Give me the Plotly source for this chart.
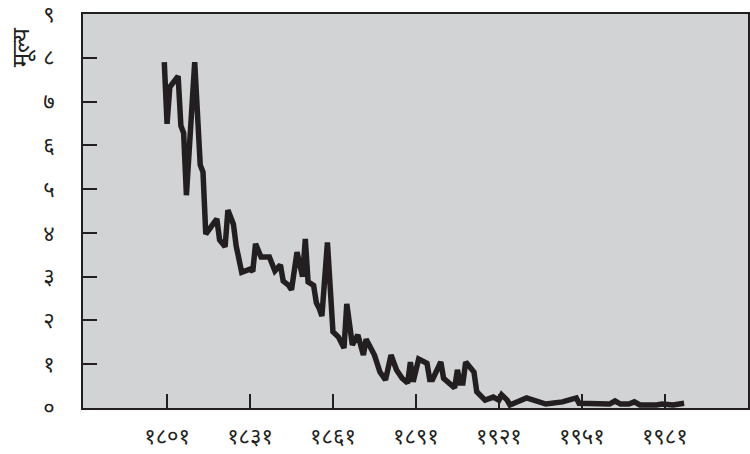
import plotly.graph_objects as go

# Vertex data
years = [1800, 1801, 1802, 1805, 1806, 1807, 1808, 1811, 1813, 1814, 1815,
         1819, 1820, 1822, 1823, 1825, 1826, 1827, 1828, 1831, 1832, 1833,
         1835, 1838, 1840, 1842, 1843, 1845, 1846, 1848, 1850, 1851, 1852,
         1854, 1855, 1856, 1857, 1859, 1861, 1863, 1865, 1866, 1868, 1870,
         1871, 1872, 1873, 1875, 1876, 1878, 1880, 1882, 1884, 1886, 1888,
         1889, 1890, 1892, 1895, 1896, 1897, 1900, 1901, 1905, 1906, 1907,
         1908, 1909, 1912, 1913, 1916, 1919, 1921, 1922, 1924, 1925, 1931,
         1938, 1944, 1949, 1950, 1961, 1963, 1965, 1968, 1970, 1972, 1978,
         1980, 1984, 1988]
values = [7.9, 6.49, 7.33, 7.58, 6.45, 6.28, 4.86, 7.9, 5.55, 5.39, 3.97,
          4.32, 3.84, 3.68, 4.52, 4.2, 3.7, 3.45, 3.1, 3.17, 3.12, 3.75,
          3.45, 3.45, 3.13, 3.27, 2.9, 2.8, 2.7, 3.56, 3.0, 3.86, 2.88,
          2.8, 2.4, 2.28, 2.1, 3.78, 1.74, 1.62, 1.37, 2.38, 1.44, 1.67,
          1.37, 1.21, 1.57, 1.28, 1.21, 0.82, 0.64, 1.21, 0.87, 0.68, 0.57,
          1.05, 0.6, 1.12, 1.02, 0.65, 0.65, 1.05, 0.68, 0.46, 0.87, 0.57,
          0.57, 1.05, 0.82, 0.37, 0.18, 0.25, 0.18, 0.3, 0.18, 0.07, 0.23,
          0.09, 0.14, 0.23, 0.11, 0.09, 0.16, 0.09, 0.09, 0.14, 0.07, 0.07,
          0.09, 0.07, 0.11]

x_tickvals = [1801, 1831, 1861, 1891, 1921, 1951, 1981]
x_ticktext = ["१८०१", "१८३१", "१८६१", "१८९१", "१९२१", "१९५१", "१९८१"]
y_tickvals = [0, 1, 2, 3, 4, 5, 6, 7, 8, 9]
y_ticktext = ["०", "१", "२", "३", "४", "५", "६", "७", "८", "९"]
y_title = "मूल्य"

ink = "#231f20"
fig = go.Figure()
fig.add_trace(go.Scatter(x=years, y=values, mode="lines",
                         line=dict(color=ink, width=5.5), showlegend=False,
                         hoverinfo="skip"))

fig.update_layout(
    template="none",
    width=750, height=454,
    margin=dict(l=83, r=2, t=14, b=46, autoexpand=False),
    paper_bgcolor="white", plot_bgcolor="#d1d3d4",
    font=dict(family="Noto Sans, sans-serif", size=22, color=ink),
    xaxis=dict(range=[1770.6, 2011.1], tickvals=x_tickvals, ticktext=x_ticktext,
               ticks="inside", ticklen=14, tickwidth=2, tickcolor=ink,
               showline=True, linewidth=2, linecolor=ink, mirror=True,
               showgrid=False, zeroline=False, ticklabelstandoff=8,
               ticklabeloverflow="allow", automargin=False),
    yaxis=dict(range=[0, 9], tickvals=y_tickvals, ticktext=y_ticktext,
               ticks="inside", ticklen=14, tickwidth=2, tickcolor=ink,
               showline=True, linewidth=2, linecolor=ink, mirror=True,
               showgrid=False, zeroline=False, ticklabelstandoff=22,
               ticklabeloverflow="allow", automargin=False),
    annotations=[dict(text=y_title, textangle=-90, xref="paper", yref="paper",
                      x=-0.095, y=0.915, xanchor="center", yanchor="middle",
                      showarrow=False, font=dict(size=24, color=ink))],
)

fig.write_html("out.html", config={"displayModeBar": False},
               post_script="document.body.style.margin='0';"
                           "document.body.style.overflow='hidden';")
